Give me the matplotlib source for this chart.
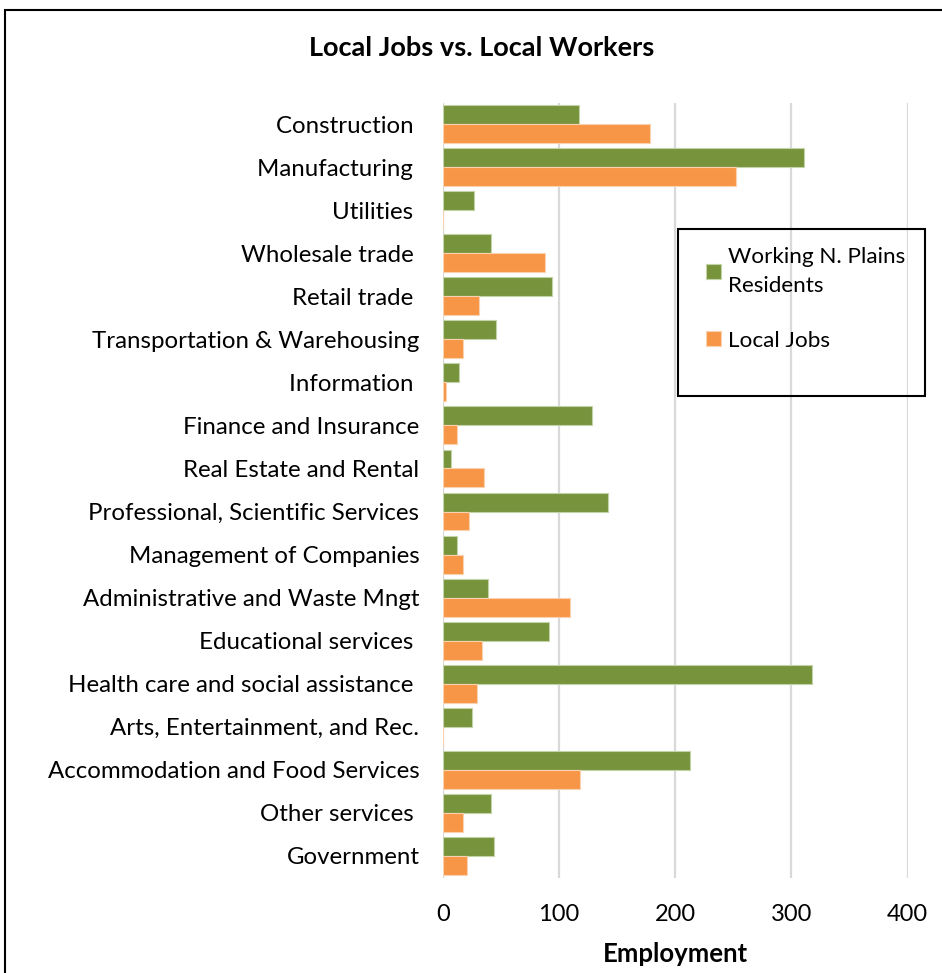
import numpy as np
import matplotlib
matplotlib.use("Agg")
import matplotlib.pyplot as plt
from matplotlib.patches import Rectangle

plt.rcParams['font.family'] = ['Lato', 'DejaVu Sans']

industries = [
    "Construction ", "Manufacturing ", "Utilities ", "Wholesale trade ",
    "Retail trade ", "Transportation & Warehousing", "Information ",
    "Finance and Insurance", "Real Estate and Rental",
    "Professional, Scientific Services", "Management of Companies",
    "Administrative and Waste Mngt", "Educational services ",
    "Health care and social assistance ", "Arts, Entertainment, and Rec.",
    "Accommodation and Food Services", "Other services ", "Government",
]
residents = [117, 311, 27, 41, 94, 46, 14, 128, 7, 142, 12, 39, 91, 318, 25, 213, 41, 44]
local_jobs = [178, 252, 0, 88, 31, 17, 3, 12, 35, 22, 17, 109, 34, 29, 0, 118, 17, 21]

green = "#77933C"
orange = "#F79646"
W, H = 942, 973

fig = plt.figure(figsize=(W / 100, H / 100), dpi=100)
ax = fig.add_axes([443 / W, 1 - 877.5 / H, 464.5 / W, 775 / H])

y = np.arange(len(industries))
h = 0.44
ax.barh(y - h / 2, residents, height=h, color=green, edgecolor="#c5d3a8", linewidth=0.8,
        label="Working N. Plains\nResidents", zorder=3)
ax.barh(y + h / 2, local_jobs, height=h, color=orange, edgecolor="#fbd2b0", linewidth=0.8,
        label="Local Jobs", zorder=3)

ax.set_xlim(0, 400)
ax.set_ylim(len(industries) - 0.5, -0.5)
ax.set_xticks([0, 100, 200, 300, 400])
ax.tick_params(axis="x", labelsize=17, length=0, pad=19)
ax.set_yticks(y)
ax.set_yticklabels(industries, fontsize=17.3)
ax.tick_params(axis="y", length=0, pad=17)
ax.grid(axis="x", color="#d9d9d9", linewidth=1.6, zorder=0)
for s in ax.spines.values():
    s.set_visible(False)

fig.text(675 / W, 1 - 954 / H, "Employment", ha="center", va="center",
         fontsize=18.5, fontweight="bold")
fig.text(482 / W, 1 - 48 / H, "Local Jobs vs. Local Workers", ha="center", va="center",
         fontsize=19.5, fontweight="bold")

leg = ax.legend(loc="upper left", bbox_to_anchor=(706 / W, 1 - 247 / H),
                bbox_transform=fig.transFigure, fontsize=16.2, frameon=False,
                handlelength=0.65, handleheight=0.65, handletextpad=0.35,
                labelspacing=1.55, borderpad=0, borderaxespad=0)
for t in leg.get_texts():
    t.set_linespacing(1.55)

# legend box and outer chart border
fig.patches.append(Rectangle((678 / W, 1 - 396 / H), 247 / W, 167 / H,
                             transform=fig.transFigure, fill=False,
                             edgecolor="black", linewidth=1.5, zorder=5))
fig.patches.append(Rectangle((5 / W, -0.05), 1.1, 1 - 10 / H + 0.05,
                             transform=fig.transFigure, fill=False,
                             edgecolor="black", linewidth=1.5))

fig.savefig("out.png", dpi=100)
